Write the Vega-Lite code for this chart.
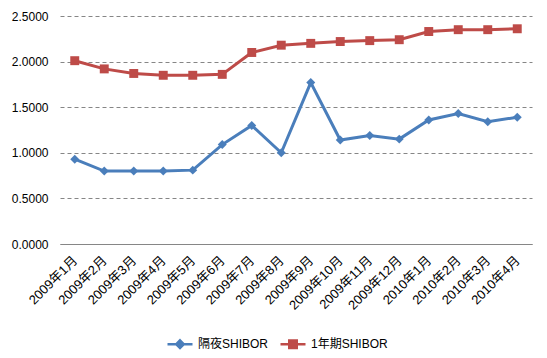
{
  "$schema": "https://vega.github.io/schema/vega-lite/v6.json",
  "width": 472,
  "height": 228,
  "autosize": "none",
  "padding": {"left": 60, "top": 16, "right": 15, "bottom": 114},
  "background": "white",
  "config": {
    "view": {"stroke": null},
    "font": "Liberation Sans, Noto Sans CJK SC",
    "axis": {"labelFont": "Liberation Sans, Noto Sans CJK SC", "labelColor": "#000000", "labelFontSize": 12}
  },
  "data": {
    "values": [
      {"month": "2009年1月", "series": "隔夜SHIBOR", "value": 0.93},
      {"month": "2009年2月", "series": "隔夜SHIBOR", "value": 0.80},
      {"month": "2009年3月", "series": "隔夜SHIBOR", "value": 0.80},
      {"month": "2009年4月", "series": "隔夜SHIBOR", "value": 0.80},
      {"month": "2009年5月", "series": "隔夜SHIBOR", "value": 0.81},
      {"month": "2009年6月", "series": "隔夜SHIBOR", "value": 1.09},
      {"month": "2009年7月", "series": "隔夜SHIBOR", "value": 1.30},
      {"month": "2009年8月", "series": "隔夜SHIBOR", "value": 1.00},
      {"month": "2009年9月", "series": "隔夜SHIBOR", "value": 1.77},
      {"month": "2009年10月", "series": "隔夜SHIBOR", "value": 1.14},
      {"month": "2009年11月", "series": "隔夜SHIBOR", "value": 1.19},
      {"month": "2009年12月", "series": "隔夜SHIBOR", "value": 1.15},
      {"month": "2010年1月", "series": "隔夜SHIBOR", "value": 1.36},
      {"month": "2010年2月", "series": "隔夜SHIBOR", "value": 1.43},
      {"month": "2010年3月", "series": "隔夜SHIBOR", "value": 1.34},
      {"month": "2010年4月", "series": "隔夜SHIBOR", "value": 1.39},
      {"month": "2009年1月", "series": "1年期SHIBOR", "value": 2.01},
      {"month": "2009年2月", "series": "1年期SHIBOR", "value": 1.92},
      {"month": "2009年3月", "series": "1年期SHIBOR", "value": 1.87},
      {"month": "2009年4月", "series": "1年期SHIBOR", "value": 1.85},
      {"month": "2009年5月", "series": "1年期SHIBOR", "value": 1.85},
      {"month": "2009年6月", "series": "1年期SHIBOR", "value": 1.86},
      {"month": "2009年7月", "series": "1年期SHIBOR", "value": 2.10},
      {"month": "2009年8月", "series": "1年期SHIBOR", "value": 2.18},
      {"month": "2009年9月", "series": "1年期SHIBOR", "value": 2.20},
      {"month": "2009年10月", "series": "1年期SHIBOR", "value": 2.22},
      {"month": "2009年11月", "series": "1年期SHIBOR", "value": 2.23},
      {"month": "2009年12月", "series": "1年期SHIBOR", "value": 2.24},
      {"month": "2010年1月", "series": "1年期SHIBOR", "value": 2.33},
      {"month": "2010年2月", "series": "1年期SHIBOR", "value": 2.35},
      {"month": "2010年3月", "series": "1年期SHIBOR", "value": 2.35},
      {"month": "2010年4月", "series": "1年期SHIBOR", "value": 2.36}
    ]
  },
  "encoding": {
    "x": {
      "field": "month", "type": "ordinal", "sort": null, "title": null,
      "scale": {"paddingInner": 0, "paddingOuter": 0.5},
      "axis": {
        "labelAngle": -45, "labelAlign": "right", "labelBaseline": "middle",
        "labelPadding": 14, "labelFontSize": 13, "ticks": false, "domainColor": "#868686", "domainWidth": 1,
        "grid": false
      }
    },
    "y": {
      "field": "value", "type": "quantitative", "title": null,
      "scale": {"domain": [0, 2.5], "nice": false},
      "axis": {
        "values": [0, 0.5, 1, 1.5, 2, 2.5], "format": ".4f",
        "domain": false, "ticks": false, "labelPadding": 12,
        "gridColor": "#868686", "gridDash": [4, 3], "gridWidth": 1
      }
    },
    "color": {
      "field": "series", "type": "nominal", "sort": ["隔夜SHIBOR", "1年期SHIBOR"],
      "scale": {"domain": ["隔夜SHIBOR", "1年期SHIBOR"], "range": ["#4a7ebb", "#be4b48"]},
      "legend": {
        "title": null, "orient": "none", "direction": "horizontal",
        "legendX": 106, "legendY": 314,
        "symbolSize": 625, "labelFontSize": 12, "labelFont": "Liberation Sans, Noto Sans CJK SC",
        "labelColor": "#000000", "columnPadding": 6, "labelOffset": 4,
        "encode": {
          "symbols": {
            "update": {
              "shape": {"signal": "datum.value === '隔夜SHIBOR' ? 'M-1,0H1M0,-0.3L0.3,0L0,0.3L-0.3,0Z' : 'M-1,0H1M-0.3,-0.3H0.3V0.3H-0.3Z'"},
              "size": {"value": 625},
              "stroke": {"signal": "datum.value === '隔夜SHIBOR' ? '#4a7ebb' : '#be4b48'"},
              "fill": {"signal": "datum.value === '隔夜SHIBOR' ? '#4a7ebb' : '#be4b48'"},
              "strokeWidth": {"value": 2.5},
              "opacity": {"value": 1}
            }
          }
        }
      }
    }
  },
  "layer": [
    {
      "mark": {"type": "line", "strokeWidth": 3}
    },
    {
      "transform": [{"filter": "datum.series === '隔夜SHIBOR'"}],
      "mark": {"type": "point", "filled": true, "opacity": 1, "size": 80, "shape": "diamond"}
    },
    {
      "transform": [{"filter": "datum.series === '1年期SHIBOR'"}],
      "mark": {"type": "point", "filled": true, "opacity": 1, "size": 80, "shape": "square"}
    }
  ]
}
